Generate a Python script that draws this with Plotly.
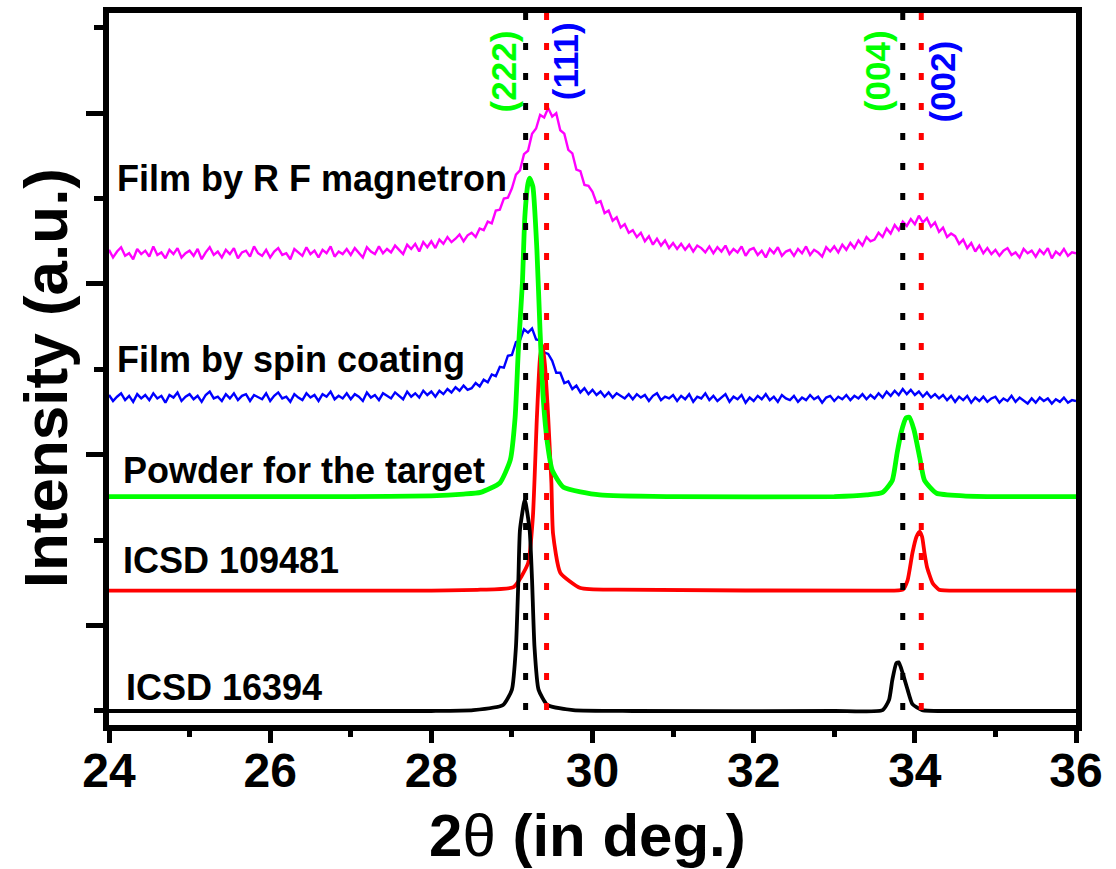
import numpy as np
import plotly.graph_objects as go

# ---------------------------------------------------------------- data
# Scan grid for the two film measurements (step 0.05 deg)
scan_2theta = np.round(np.linspace(24.0, 36.0, 241), 2)

# Film by RF magnetron sputtering (stacked intensity, a.u.)
film_rf = [
    5.40, 5.31, 5.38, 5.43, 5.33, 5.36, 5.29, 5.41, 5.35, 5.39,
    5.32, 5.44, 5.34, 5.37, 5.30, 5.40, 5.35, 5.42, 5.31, 5.36,
    5.39, 5.33, 5.41, 5.29, 5.37, 5.43, 5.34, 5.38, 5.31, 5.40,
    5.35, 5.42, 5.30, 5.37, 5.39, 5.32, 5.44, 5.36, 5.33, 5.40,
    5.31, 5.38, 5.42, 5.34, 5.36, 5.29, 5.41, 5.37, 5.33, 5.43,
    5.35, 5.39, 5.31, 5.40, 5.36, 5.44, 5.32, 5.38, 5.35, 5.41,
    5.34, 5.42, 5.37, 5.31, 5.43, 5.38, 5.35, 5.44, 5.36, 5.41,
    5.37, 5.45, 5.40, 5.35, 5.46, 5.41, 5.47, 5.38, 5.49, 5.43,
    5.50, 5.42, 5.52, 5.47, 5.55, 5.49, 5.53, 5.58, 5.50, 5.57,
    5.60, 5.55, 5.65, 5.63, 5.73, 5.71, 5.86, 5.87, 6.00, 6.01,
    6.12, 6.28, 6.33, 6.52, 6.56, 6.76, 6.82, 6.98, 6.95, 7.06,
    6.96, 7.00, 6.80, 6.76, 6.57, 6.53, 6.34, 6.32, 6.16, 6.15,
    6.08, 5.95, 5.97, 5.83, 5.86, 5.74, 5.78, 5.66, 5.70, 5.60,
    5.63, 5.55, 5.60, 5.50, 5.56, 5.46, 5.53, 5.45, 5.51, 5.42,
    5.48, 5.41, 5.47, 5.40, 5.46, 5.38, 5.45, 5.42, 5.37, 5.44,
    5.36, 5.43, 5.38, 5.45, 5.35, 5.41, 5.37, 5.44, 5.33, 5.40,
    5.42, 5.34, 5.39, 5.31, 5.41, 5.36, 5.43, 5.33, 5.38, 5.40,
    5.33, 5.41, 5.36, 5.44, 5.34, 5.40, 5.37, 5.32, 5.43, 5.38,
    5.44, 5.37, 5.46, 5.40, 5.48, 5.42, 5.51, 5.45, 5.55, 5.50,
    5.52, 5.60, 5.55, 5.65, 5.59, 5.69, 5.63, 5.73, 5.68, 5.76,
    5.70, 5.80, 5.72, 5.77, 5.67, 5.72, 5.61, 5.66, 5.55, 5.59,
    5.56, 5.47, 5.52, 5.42, 5.48, 5.38, 5.45, 5.36, 5.42, 5.35,
    5.40, 5.33, 5.39, 5.42, 5.34, 5.37, 5.31, 5.41, 5.36, 5.39,
    5.32, 5.40, 5.35, 5.42, 5.30, 5.38, 5.34, 5.41, 5.33, 5.37, 5.36,
]

# Film by spin coating (stacked intensity, a.u.)
film_spin = [
    3.70, 3.63, 3.68, 3.72, 3.64, 3.69, 3.62, 3.71, 3.66, 3.70,
    3.64, 3.72, 3.66, 3.69, 3.61, 3.70, 3.67, 3.73, 3.63, 3.68,
    3.71, 3.65, 3.69, 3.62, 3.70, 3.74, 3.66, 3.68, 3.63, 3.71,
    3.66, 3.72, 3.64, 3.69, 3.71, 3.63, 3.70, 3.67, 3.65, 3.72,
    3.63, 3.69, 3.73, 3.66, 3.68, 3.62, 3.71, 3.67, 3.64, 3.72,
    3.67, 3.70, 3.63, 3.71, 3.68, 3.74, 3.65, 3.69, 3.66, 3.72,
    3.65, 3.71, 3.68, 3.63, 3.73, 3.67, 3.70, 3.64, 3.72, 3.69,
    3.66, 3.73, 3.69, 3.65, 3.74, 3.68, 3.72, 3.67, 3.75, 3.70,
    3.74, 3.68, 3.75, 3.71, 3.77, 3.73, 3.79, 3.75, 3.81, 3.76,
    3.78, 3.84, 3.80, 3.88, 3.85, 3.94, 3.92, 4.03, 4.02, 4.16,
    4.17, 4.32, 4.34, 4.47, 4.43, 4.48, 4.35, 4.34, 4.20, 4.18,
    4.10, 3.96, 3.96, 3.84, 3.86, 3.77, 3.81, 3.73, 3.78, 3.71,
    3.76, 3.70, 3.74, 3.68, 3.73, 3.67, 3.72, 3.69, 3.66, 3.71,
    3.65, 3.71, 3.67, 3.70, 3.63, 3.69, 3.72, 3.64, 3.68, 3.66,
    3.70, 3.63, 3.69, 3.65, 3.71, 3.62, 3.68, 3.66, 3.72, 3.64,
    3.69, 3.63, 3.67, 3.71, 3.62, 3.68, 3.65, 3.70, 3.61, 3.67,
    3.63, 3.69, 3.65, 3.71, 3.64, 3.68, 3.62, 3.70, 3.66, 3.64,
    3.69, 3.62, 3.67, 3.64, 3.70, 3.65, 3.68, 3.61, 3.67, 3.69,
    3.63, 3.68, 3.65, 3.70, 3.64, 3.69, 3.66, 3.71, 3.65, 3.70,
    3.66, 3.72, 3.67, 3.74, 3.69, 3.75, 3.70, 3.77, 3.71, 3.76,
    3.70, 3.74, 3.68, 3.73, 3.67, 3.71, 3.66, 3.70, 3.64, 3.69,
    3.62, 3.68, 3.64, 3.69, 3.61, 3.67, 3.63, 3.68, 3.62, 3.66,
    3.68, 3.61, 3.66, 3.63, 3.69, 3.62, 3.67, 3.64, 3.60, 3.66,
    3.61, 3.67, 3.63, 3.66, 3.60, 3.65, 3.62, 3.67, 3.61, 3.64, 3.63,
]

# Powder for the target
powder_2theta = [
    24.00, 27.00, 28.00, 28.40, 28.61, 28.85, 28.98, 29.04, 29.08, 29.13,
    29.16, 29.20, 29.22, 29.26, 29.31, 29.35, 29.39, 29.44, 29.50, 29.64,
    30.09, 31.00, 33.00, 33.40, 33.60, 33.72, 33.78, 33.83, 33.89, 33.93,
    33.99, 34.06, 34.12, 34.27, 34.60, 35.05, 36.00,
]
powder_int = [
    2.51, 2.51, 2.52, 2.54, 2.56, 2.67, 2.94, 3.44, 4.23, 5.01,
    5.78, 6.18, 6.24, 6.14, 5.40, 4.43, 3.64, 3.14, 2.82, 2.62,
    2.53, 2.51, 2.51, 2.53, 2.56, 2.70, 3.02, 3.26, 3.43, 3.44,
    3.29, 2.97, 2.70, 2.55, 2.52, 2.51, 2.51,
]

# ICSD 109481 reference pattern
icsd109481_2theta = [
    24.00, 28.00, 28.61, 29.02, 29.20, 29.26, 29.31, 29.35, 29.38, 29.41,
    29.45, 29.49, 29.51, 29.60, 29.85, 30.30, 33.50, 33.85, 33.91, 33.97,
    34.02, 34.06, 34.09, 34.12, 34.15, 34.22, 34.30, 34.60, 36.00,
]
icsd109481_int = [
    1.41, 1.41, 1.42, 1.45, 1.73, 2.27, 3.44, 4.15, 4.28, 4.05,
    3.44, 2.67, 2.08, 1.62, 1.44, 1.42, 1.41, 1.42, 1.53, 1.85,
    2.04, 2.10, 2.04, 1.85, 1.69, 1.50, 1.42, 1.41, 1.41,
]

# ICSD 16394 reference pattern
icsd16394_2theta = [
    24.00, 28.00, 28.52, 28.89, 29.00, 29.05, 29.08, 29.10, 29.16, 29.22,
    29.25, 29.28, 29.33, 29.44, 29.76, 30.50, 33.00, 33.60, 33.68, 33.72,
    33.77, 33.80, 33.85, 33.91, 33.97, 34.09, 34.60, 36.00,
]
icsd16394_int = [
    0.00, 0.00, 0.01, 0.07, 0.25, 0.75, 1.53, 2.12, 2.47, 2.12,
    1.53, 0.75, 0.25, 0.07, 0.01, 0.00, 0.00, 0.01, 0.13, 0.36,
    0.56, 0.57, 0.44, 0.25, 0.08, 0.01, 0.00, 0.00,
]

# Reference peak positions (dotted guides)
icsd16394_peaks = [29.17, 33.85]
icsd109481_peaks = [29.43, 34.08]

x_ticks = [24, 26, 28, 30, 32, 34, 36]
x_minor = [25, 27, 29, 31, 33, 35]

# ---------------------------------------------------------------- styles
MAGENTA = "#FF00FF"
BLUE = "#0000FF"
GREEN = "#00FF00"
RED = "#FF0000"
BLACK = "#000000"
BODY = "Liberation Sans, Arial, sans-serif"

fig = go.Figure()

fig.add_trace(go.Scatter(x=scan_2theta, y=film_rf, mode="lines",
                         line=dict(color=MAGENTA, width=2.4), hoverinfo="skip"))
fig.add_trace(go.Scatter(x=scan_2theta, y=film_spin, mode="lines",
                         line=dict(color=BLUE, width=2.4), hoverinfo="skip"))
fig.add_trace(go.Scatter(x=icsd109481_2theta, y=icsd109481_int, mode="lines",
                         line=dict(color=RED, width=3.8, shape="spline", smoothing=0.5),
                         hoverinfo="skip"))
fig.add_trace(go.Scatter(x=powder_2theta, y=powder_int, mode="lines",
                         line=dict(color=GREEN, width=4.8, shape="spline", smoothing=0.5),
                         hoverinfo="skip"))
fig.add_trace(go.Scatter(x=icsd16394_2theta, y=icsd16394_int, mode="lines",
                         line=dict(color=BLACK, width=3.8, shape="spline", smoothing=0.5),
                         hoverinfo="skip"))

# dotted guide lines at the reference peak positions
for pos_list, col in ((icsd16394_peaks, BLACK), (icsd109481_peaks, RED)):
    for p in pos_list:
        fig.add_shape(type="line", xref="x", yref="paper", x0=p, x1=p, y0=1, y1=0,
                      line=dict(color=col, width=5, dash="7px,23px"), layer="above")

# sample labels
labels = [
    ("Film by R F magnetron", 24.07, 6.24),
    ("Film by spin coating", 24.07, 4.11),
    ("Powder for the target", 24.15, 2.82),
    ("ICSD 109481", 24.15, 1.76),
    ("ICSD 16394", 24.19, 0.27),
]
for txt, lx, ly in labels:
    fig.add_annotation(x=lx, y=ly, xref="x", yref="y", text=txt, showarrow=False,
                       xanchor="left", yanchor="middle",
                       font=dict(family=BODY, size=36, color=BLACK, weight="bold"))

# Miller indices
hkl = [
    ("(222)", 28.89, 7.49, GREEN),
    ("(111)", 29.66, 7.61, BLUE),
    ("(004)", 33.54, 7.49, GREEN),
    ("(002)", 34.35, 7.37, BLUE),
]
for txt, hx, hy, col in hkl:
    fig.add_annotation(x=hx, y=hy, xref="x", yref="y", text=txt, showarrow=False,
                       textangle=-90, xanchor="center", yanchor="middle",
                       font=dict(family=BODY, size=35, color=col, weight="bold"))

# axis titles
fig.add_annotation(x=-0.0662, y=0.487, xref="paper", yref="paper",
                   text="Intensity (a.u.)", showarrow=False, textangle=-90,
                   xanchor="center", yanchor="middle",
                   font=dict(family=BODY, size=62, color=BLACK, weight="bold"))
fig.add_annotation(x=0.495, y=-0.1545, xref="paper", yref="paper",
                   text="2<span style='font-weight:normal'>\u03b8</span> (in deg.)",
                   showarrow=False, xanchor="center", yanchor="middle",
                   font=dict(family=BODY, size=60, color=BLACK, weight="bold"))

fig.update_layout(
    width=1116, height=869,
    margin=dict(l=109, r=40, t=13, b=144, autoexpand=False),
    paper_bgcolor="white", plot_bgcolor="white",
    showlegend=False,
    xaxis=dict(
        range=[24, 36], showgrid=False, zeroline=False, automargin=False,
        showline=True, linewidth=6, linecolor=BLACK, mirror=True,
        ticks="outside", tickvals=x_ticks, ticktext=[str(v) for v in x_ticks],
        ticklen=12, tickwidth=5, tickcolor=BLACK,
        minor=dict(tickvals=x_minor, ticks="outside", ticklen=6, tickwidth=5, tickcolor=BLACK),
        tickfont=dict(family=BODY, size=48, color=BLACK, weight="bold"),
        ticklabelstandoff=-14,
    ),
    yaxis=dict(
        range=[-0.164, 8.173], showgrid=False, zeroline=False, automargin=False,
        showline=True, linewidth=6, linecolor=BLACK, mirror=True,
        ticks="outside", tickvals=[1, 3, 5, 7], showticklabels=False,
        ticklen=17, tickwidth=5, tickcolor=BLACK,
        minor=dict(tickvals=[0, 2, 4, 6, 8], ticks="outside", ticklen=9, tickwidth=5,
                   tickcolor=BLACK),
    ),
)

fig.write_html("out.html")
